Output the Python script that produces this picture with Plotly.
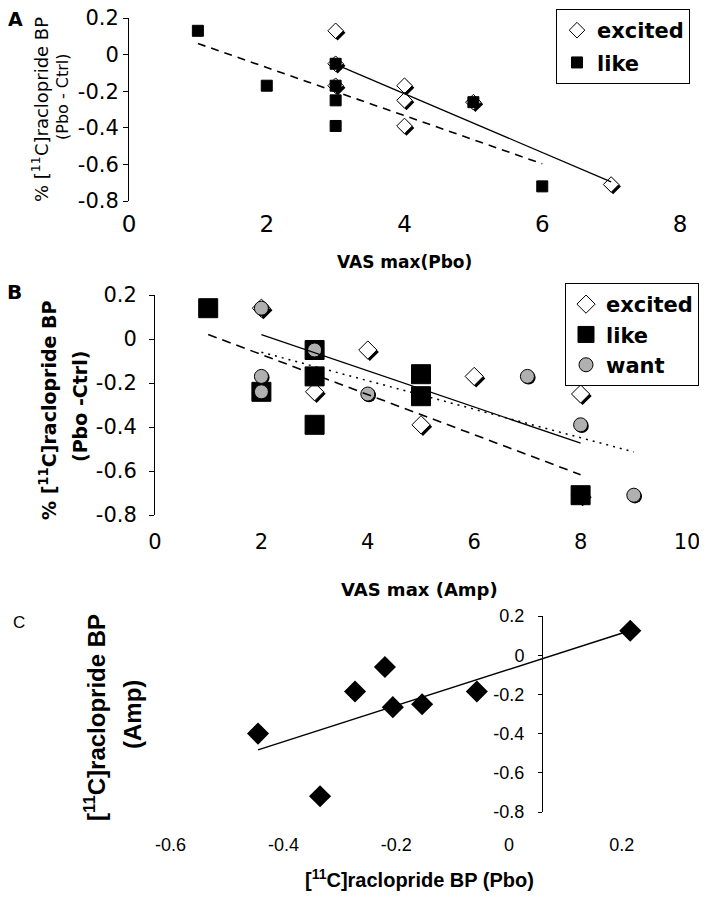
import plotly.graph_objects as go
import numpy as np

# ---- data ----
# panel A: VAS max (Pbo) vs % change in BP
a_exc_x = [3, 3, 3, 4, 4, 4, 5, 7]
a_exc_y = [0.13, -0.05, -0.17, -0.17, -0.25, -0.39, -0.26, -0.71]
a_like_x = [1, 2, 3, 3, 3, 3, 5, 6]
a_like_y = [0.13, -0.17, -0.05, -0.17, -0.25, -0.39, -0.26, -0.72]

# panel B: VAS max (Amp) vs % change in BP
b_exc_x = [2, 3, 4, 5, 6, 8, 8]
b_exc_y = [0.14, -0.24, -0.05, -0.39, -0.17, -0.25, -0.71]
b_like_x = [1, 2, 3, 3, 3, 5, 5, 8]
b_like_y = [0.14, -0.24, -0.05, -0.17, -0.39, -0.16, -0.26, -0.71]
b_want_x = [2, 2, 2, 3, 4, 7, 8, 9]
b_want_y = [0.14, -0.17, -0.24, -0.05, -0.25, -0.17, -0.39, -0.71]

# panel C: BP (Pbo) vs BP (Amp)
c_x = [-0.445, -0.335, -0.273, -0.220, -0.206, -0.154, -0.057, 0.215]
c_y = [-0.40, -0.72, -0.185, -0.06, -0.265, -0.25, -0.185, 0.125]

a_xticks = [0, 2, 4, 6, 8]
b_xticks = [0, 2, 4, 6, 8, 10]
c_xticks = [-0.6, -0.4, -0.2, 0, 0.2]
yticks = [0.2, 0, -0.2, -0.4, -0.6, -0.8]
ytick_text = ["0.2", "0", "-0.2", "-0.4", "-0.6", "-0.8"]

# the page body keeps its 8px margin, so the figure sits at (8, 8) in the window
OFF = 8
W, H = 707 - 2 * OFF, 899 - 2 * OFF
VERD = "DejaVu Sans"
ARIAL = "Liberation Sans"


def sx(p):
    return (p - OFF) / W


def sy(p):
    return 1 - (p - OFF) / H


def px_dom(p0, p1):
    return [sx(p0), sx(p1)]


def py_dom(top, bottom):
    return [sy(bottom), sy(top)]


def fit(xs, ys):
    k, b = np.polyfit(xs, ys, 1)
    xx = np.array([min(xs), max(xs)])
    return xx, k * xx + b


def lab(v):
    return "%g" % v


fig = go.Figure()

# shadow offsets (pixels -> data units)
a_dx, a_dy = 2 * 8 / (680 - 129), -2 * 1.0 / (201 - 18)
b_dx, b_dy = 2 * 10 / (687 - 155), -2 * 1.0 / (515 - 295)

# ---- panel A ----
fig.add_trace(go.Scatter(x=np.array(a_exc_x) + a_dx, y=np.array(a_exc_y) + a_dy, mode="markers",
                         marker=dict(symbol="diamond", size=12, color="black", line=dict(width=0)),
                         showlegend=False, xaxis="x", yaxis="y", hoverinfo="skip"))
fig.add_trace(go.Scatter(x=a_exc_x, y=a_exc_y, mode="markers", name="excited",
                         marker=dict(symbol="diamond", size=12, color="white", line=dict(color="black", width=1)),
                         legend="legend", legendgroup="ae", xaxis="x", yaxis="y"))
fig.add_trace(go.Scatter(x=a_like_x, y=a_like_y, mode="markers", name="like",
                         marker=dict(symbol="square", size=11, color="black", line=dict(color="black", width=1)),
                         legend="legend", legendgroup="al", xaxis="x", yaxis="y"))
lx, ly = fit(a_exc_x, a_exc_y)
fig.add_trace(go.Scatter(x=lx, y=ly, mode="lines", line=dict(color="black", width=1.3),
                         showlegend=False, xaxis="x", yaxis="y"))
lx, ly = fit(a_like_x, a_like_y)
fig.add_trace(go.Scatter(x=lx, y=ly, mode="lines", line=dict(color="black", width=1.6, dash="8px,6px"),
                         showlegend=False, xaxis="x", yaxis="y"))

# ---- panel B ----
fig.add_trace(go.Scatter(x=np.array(b_exc_x) + b_dx, y=np.array(b_exc_y) + b_dy, mode="markers",
                         marker=dict(symbol="diamond", size=14, color="black", line=dict(width=0)),
                         showlegend=False, xaxis="x2", yaxis="y2", hoverinfo="skip"))
fig.add_trace(go.Scatter(x=b_exc_x, y=b_exc_y, mode="markers", name="excited",
                         marker=dict(symbol="diamond", size=14, color="white", line=dict(color="black", width=1)),
                         legend="legend2", legendgroup="be", xaxis="x2", yaxis="y2"))
fig.add_trace(go.Scatter(x=b_like_x, y=b_like_y, mode="markers", name="like",
                         marker=dict(symbol="square", size=19, color="black", line=dict(color="black", width=1)),
                         legend="legend2", legendgroup="bl", xaxis="x2", yaxis="y2"))
fig.add_trace(go.Scatter(x=np.array(b_want_x) + b_dx * 0.6, y=np.array(b_want_y) + b_dy * 0.6, mode="markers",
                         marker=dict(symbol="circle", size=14, color="black", line=dict(width=0)),
                         showlegend=False, xaxis="x2", yaxis="y2", hoverinfo="skip"))
fig.add_trace(go.Scatter(x=b_want_x, y=b_want_y, mode="markers", name="want",
                         marker=dict(symbol="circle", size=14, color="#b0b0b0", line=dict(color="black", width=1)),
                         legend="legend2", legendgroup="bw", xaxis="x2", yaxis="y2"))
lx, ly = fit(b_exc_x, b_exc_y)
fig.add_trace(go.Scatter(x=lx, y=ly, mode="lines", line=dict(color="black", width=1.3),
                         showlegend=False, xaxis="x2", yaxis="y2"))
lx, ly = fit(b_like_x, b_like_y)
fig.add_trace(go.Scatter(x=lx, y=ly, mode="lines", line=dict(color="black", width=1.6, dash="9px,6px"),
                         showlegend=False, xaxis="x2", yaxis="y2"))
lx, ly = fit(b_want_x, b_want_y)
fig.add_trace(go.Scatter(x=lx, y=ly, mode="lines", line=dict(color="black", width=1.5, dash="2px,5px"),
                         showlegend=False, xaxis="x2", yaxis="y2"))

# ---- panel C ----
fig.add_trace(go.Scatter(x=c_x, y=c_y, mode="markers",
                         marker=dict(symbol="diamond", size=17, color="black", line=dict(width=0)),
                         showlegend=False, xaxis="x3", yaxis="y3"))
lx, ly = fit(c_x, c_y)
fig.add_trace(go.Scatter(x=lx, y=ly, mode="lines", line=dict(color="black", width=1.5),
                         showlegend=False, xaxis="x3", yaxis="y3"))

# ---- axes ----
common_x = dict(showline=False, showgrid=False, zeroline=False, ticks="", automargin=False,
                ticklabeloverflow="allow")
common_y = dict(showline=True, linecolor="black", linewidth=1, showgrid=False, zeroline=False,
                ticks="outside", ticklen=5, tickcolor="black", tickwidth=1, automargin=False,
                ticklabeloverflow="allow",
                tickvals=yticks, ticktext=ytick_text, range=[-0.8, 0.2])

c_x0, c_x1 = -0.65, 0.32
c_p0, c_p1 = 509 + 564 * c_x0, 509 + 564 * c_x1

fig.update_layout(
    width=W, height=H, margin=dict(l=0, r=0, t=0, b=0, autoexpand=False),
    paper_bgcolor="white", plot_bgcolor="rgba(0,0,0,0)",
    xaxis=dict(common_x, domain=px_dom(129, 680), range=[0, 8], anchor="y",
               tickvals=a_xticks, ticktext=[lab(v) for v in a_xticks],
               tickfont=dict(family=VERD, size=23, color="black"), ticklabelstandoff=7),
    yaxis=dict(common_y, domain=py_dom(18, 201), anchor="x",
               tickfont=dict(family=VERD, size=21, color="black"), ticklabelstandoff=0),
    xaxis2=dict(common_x, domain=px_dom(155, 687), range=[0, 10], anchor="y2",
                tickvals=b_xticks, ticktext=[lab(v) for v in b_xticks],
                tickfont=dict(family=VERD, size=21, color="black"), ticklabelstandoff=12),
    yaxis2=dict(common_y, domain=py_dom(295, 515), anchor="x2",
                tickfont=dict(family=VERD, size=21, color="black"), ticklabelstandoff=8),
    xaxis3=dict(common_x, domain=px_dom(c_p0, c_p1), range=[c_x0, c_x1], anchor="y3",
                tickvals=c_xticks, ticktext=[lab(v) for v in c_xticks],
                tickfont=dict(family=ARIAL, size=18, color="black"), ticklabelstandoff=20),
    yaxis3=dict(common_y, domain=py_dom(616, 812), anchor="free", position=sx(542),
                tickfont=dict(family=ARIAL, size=18, color="black"), ticklabelstandoff=10, ticklen=4),
    legend=dict(x=sx(690), y=sy(9), xanchor="right", yanchor="top",
                bordercolor="black", borderwidth=1, bgcolor="white",
                traceorder="grouped", tracegroupgap=2,
                font=dict(family=VERD, size=21, color="black", weight="bold")),
    legend2=dict(x=sx(699), y=sy(283), xanchor="right", yanchor="top",
                 bordercolor="black", borderwidth=1, bgcolor="white",
                 traceorder="grouped", tracegroupgap=0,
                 font=dict(family=VERD, size=21, color="black", weight="bold")),
)


def note(text, x, y, family, size, angle=0, bold=False):
    if bold:
        text = "<b>" + text + "</b>"
    fig.add_annotation(text=text, x=sx(x), y=sy(y), xref="paper", yref="paper",
                       showarrow=False, textangle=angle, xanchor="center", yanchor="middle",
                       font=dict(family=family, size=size, color="black"))


# panel letters
note("A", 16, 19, VERD, 19, bold=True)
note("B", 14, 292, VERD, 20, bold=True)
note("C", 19, 622, ARIAL, 17)

# axis titles
note("VAS max(Pbo)", 404, 262, VERD, 17, bold=True)
note("VAS max (Amp)", 420, 589, VERD, 18, bold=True)
note("[<sup>11</sup>C]raclopride BP (Pbo)", 420, 878, ARIAL, 20, bold=True)

note("% [<sup>11</sup>C]raclopride BP", 40, 110, VERD, 18, angle=-90)
note("(Pbo - Ctrl)", 62, 96, VERD, 16, angle=-90)
note("% [<sup>11</sup>C]raclopride BP", 48, 410, VERD, 19, angle=-90, bold=True)
note("(Pbo -Ctrl)", 80, 407, VERD, 19, angle=-90, bold=True)
note("[<sup>11</sup>C]raclopride BP", 95, 718, ARIAL, 24, angle=-90, bold=True)
note("(Amp)", 132, 715, ARIAL, 24, angle=-90, bold=True)

fig.write_html("out.html")
